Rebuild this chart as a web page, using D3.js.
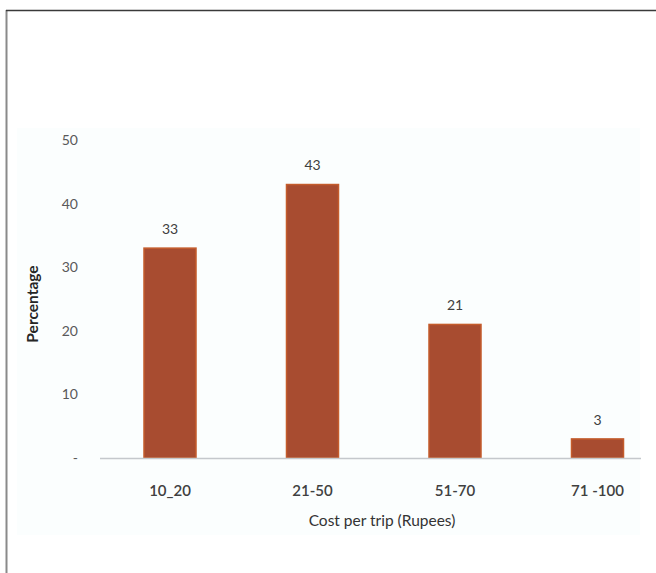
<!DOCTYPE html>
<html>
<head>
<meta charset="utf-8">
<script src="https://cdn.jsdelivr.net/npm/d3@7"></script>
<style>
  html, body { margin: 0; padding: 0; background: #fff; }
  svg { display: block; }
</style>
</head>
<body>
<svg id="chart" width="656" height="573"></svg>
<script>
// Share of trips by cost band
const categories = ["10_20", "21-50", "51-70", "71 -100"];
const values = [33, 43, 21, 3];
const yTicks = [0, 10, 20, 30, 40, 50];
const yTickLabels = ["-", "10", "20", "30", "40", "50"];

const svg = d3.select("#chart");
const font = "Lato, 'Open Sans', 'Liberation Sans', sans-serif";

// page frame: left and top rules
svg.append("line").attr("x1", 6.5).attr("x2", 6.5).attr("y1", 10).attr("y2", 573)
  .attr("stroke", "#8a8a8a").attr("stroke-width", 2);
svg.append("line").attr("x1", 6).attr("x2", 656).attr("y1", 10.5).attr("y2", 10.5)
  .attr("stroke", "#3a3a3a").attr("stroke-width", 1.5);

// faint chart area
svg.append("rect").attr("x", 17).attr("y", 128).attr("width", 623).attr("height", 407)
  .attr("fill", "#fbfefe");

const x = d3.scaleBand()
  .domain(categories)
  .range([98.75, 668.75])
  .paddingInner(0.635)
  .paddingOuter(0.3175);

const y = d3.scaleLinear().domain([0, 50]).range([458, 140]);

// y tick labels
svg.append("g").selectAll("text").data(yTicks).join("text")
  .attr("x", 78).attr("y", d => y(d)).attr("dy", "0.35em")
  .attr("text-anchor", "end")
  .attr("font-family", font).attr("font-size", 14).attr("fill", "#595959")
  .text((d, i) => yTickLabels[i]);

// bars
svg.append("g").selectAll("rect").data(values).join("rect")
  .attr("x", (d, i) => x(categories[i]))
  .attr("y", d => y(d))
  .attr("width", x.bandwidth())
  .attr("height", d => y(0) - y(d))
  .attr("fill", "#a84c30")
  .attr("stroke", "#c45c2c").attr("stroke-width", 1.5);

// baseline
svg.append("line").attr("x1", 100).attr("x2", 641).attr("y1", y(0) + 0.5).attr("y2", y(0) + 0.5)
  .attr("stroke", "#c4c8cc").attr("stroke-width", 1.5);

// value labels
svg.append("g").selectAll("text").data(values).join("text")
  .attr("x", (d, i) => x(categories[i]) + x.bandwidth() / 2)
  .attr("y", d => y(d) - 19).attr("dy", "0.35em")
  .attr("text-anchor", "middle")
  .attr("font-family", font).attr("font-size", 14).attr("fill", "#404040")
  .text(d => d);

// category labels
svg.append("g").selectAll("text").data(categories).join("text")
  .attr("x", d => x(d) + x.bandwidth() / 2)
  .attr("y", 491).attr("dy", "0.35em")
  .attr("text-anchor", "middle")
  .attr("font-family", font).attr("font-size", 15).attr("font-weight", 600).attr("fill", "#404040")
  .text(d => d);

// axis titles
svg.append("text")
  .attr("x", 382).attr("y", 521).attr("dy", "0.35em")
  .attr("text-anchor", "middle")
  .attr("font-family", font).attr("font-size", 15.5).attr("fill", "#333")
  .text("Cost per trip (Rupees)");

svg.append("text")
  .attr("transform", "translate(33,304) rotate(-90)")
  .attr("dy", "0.35em")
  .attr("text-anchor", "middle")
  .attr("font-family", font).attr("font-size", 15.5).attr("font-weight", 700).attr("fill", "#262626")
  .text("Percentage");
</script>
</body>
</html>
